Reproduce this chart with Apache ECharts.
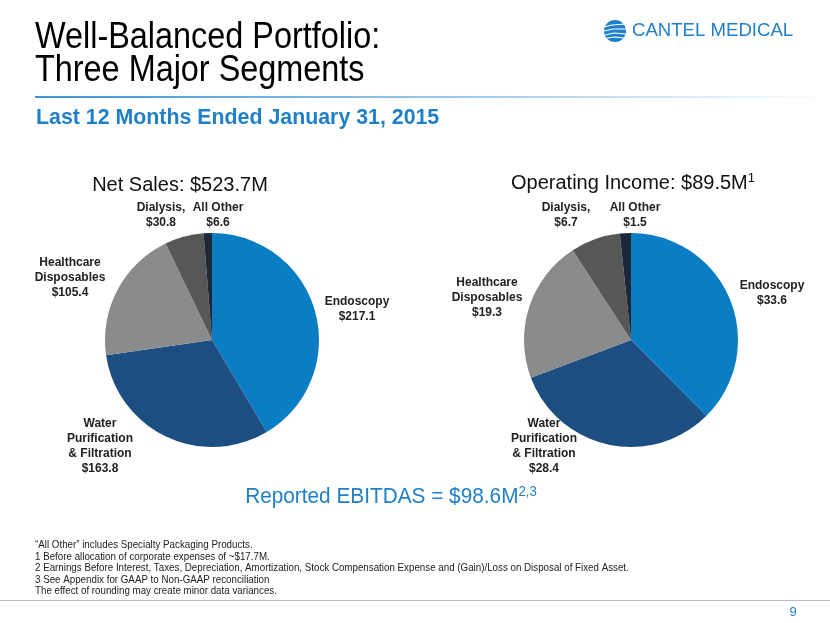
<!DOCTYPE html>
<html>
<head>
<meta charset="utf-8">
<script src="https://cdn.jsdelivr.net/npm/echarts@6/dist/echarts.min.js"></script>
<style>
html,body{margin:0;padding:0;background:#fff;}
#chart{width:830px;height:623px;}
</style>
</head>
<body>
<div id="chart"></div>
<script>
// ---- data ----
var categories = ['Endoscopy', 'Water Purification & Filtration', 'Healthcare Disposables', 'Dialysis', 'All Other'];
var labelNames = ['Endoscopy', 'Water\nPurification\n& Filtration', 'Healthcare\nDisposables', 'Dialysis,', 'All Other'];
var netSales = [217.1, 163.8, 105.4, 30.8, 6.6];
var operatingIncome = [33.6, 28.4, 19.3, 6.7, 1.5];
var netSalesTitle = 'Net Sales: $523.7M';
var opIncomeTitle = 'Operating Income: $89.5M';
var footnotes = [
  '\u201cAll Other\u201d includes Specialty Packaging Products.',
  '1 Before allocation of corporate expenses of ~$17.7M.',
  '2 Earnings Before Interest, Taxes, Depreciation, Amortization, Stock Compensation Expense and (Gain)/Loss on Disposal of Fixed Asset.',
  '3 See Appendix for GAAP to Non-GAAP reconciliation',
  'The effect of rounding may create minor data variances.'
];

// ---- styles / layout ----
var colors = ['#0b7dc5', '#1d4e82', '#8a8b8d', '#575757', '#1b2838'];
var leftLabelPos = [[357, 309], [100, 446], [70, 278], [161, 215], [218, 215]];
var rightLabelPos = [[772, 293], [544, 446], [487, 298], [566, 215], [635, 215]];

function buildData(vals) {
  return vals.map(function (v, i) {
    return { name: categories[i], value: v, itemStyle: { color: colors[i] } };
  });
}
function labelFmt(p) {
  return labelNames[p.dataIndex] + '\n$' + p.value.toFixed(1);
}
function makePie(vals, center, pos) {
  return {
    type: 'pie',
    center: center,
    radius: 107,
    startAngle: 90,
    clockwise: true,
    animation: false,
    data: buildData(vals),
    label: {
      show: true,
      position: 'outside',
      formatter: labelFmt,
      fontFamily: '"Liberation Sans", Arial, sans-serif',
      fontWeight: 'bold',
      fontSize: 12,
      lineHeight: 15,
      color: '#222',
      align: 'center',
      overflow: 'none',
      width: 120
    },
    labelLine: { show: false },
    labelLayout: function (p) {
      var xy = pos[p.dataIndex];
      return { x: xy[0], y: xy[1], align: 'center', verticalAlign: 'middle' };
    },
    emphasis: { disabled: true }
  };
}

var chart = echarts.init(document.getElementById('chart'), null, { renderer: 'canvas' });

var graphics = [
  // main title
  { type: 'text', x: 35, y: 56, scaleX: 0.9,
    style: { text: 'Well-Balanced Portfolio:', font: '36px "Liberation Sans", Arial, sans-serif', fill: '#000', textAlign: 'left', textVerticalAlign: 'bottom' } },
  { type: 'text', x: 35, y: 89, scaleX: 0.9,
    style: { text: 'Three Major Segments', font: '36px "Liberation Sans", Arial, sans-serif', fill: '#000', textAlign: 'left', textVerticalAlign: 'bottom' } },
  // rule under title
  { type: 'rect', shape: { x: 35, y: 96, width: 795, height: 2 },
    style: { fill: new echarts.graphic.LinearGradient(0, 0, 1, 0, [
      { offset: 0, color: '#3b95d6' }, { offset: 0.6, color: '#a9d0ee' }, { offset: 1, color: '#ffffff' }]) } },
  // subtitle
  { type: 'text', x: 36, y: 129, scaleX: 0.97,
    style: { text: 'Last 12 Months Ended January 31, 2015', font: 'bold 22px "Liberation Sans", Arial, sans-serif', fill: '#1f7fc9', textAlign: 'left', textVerticalAlign: 'bottom' } },
  // logo
  { type: 'circle', shape: { cx: 615, cy: 31, r: 11 }, style: { fill: '#1f7fc9' } },
  { type: 'polyline', shape: { points: [[604, 27], [612, 25], [626, 24]] }, style: { stroke: '#fff', lineWidth: 1.2, fill: null } },
  { type: 'polyline', shape: { points: [[604, 31], [613, 29], [626, 29]] }, style: { stroke: '#fff', lineWidth: 1.2, fill: null } },
  { type: 'polyline', shape: { points: [[605, 35], [614, 33], [626, 34]] }, style: { stroke: '#fff', lineWidth: 1.2, fill: null } },
  { type: 'polyline', shape: { points: [[607, 38], [615, 37], [624, 38]] }, style: { stroke: '#fff', lineWidth: 1.2, fill: null } },
  { type: 'text', x: 632, y: 40,
    style: { text: 'CANTEL MEDICAL', font: '18.6px "Liberation Sans", Arial, sans-serif', fill: '#1f7fc9', textAlign: 'left', textVerticalAlign: 'bottom' } },
  // pie titles
  { type: 'text', x: 180, y: 195,
    style: { text: netSalesTitle, font: '20px "Liberation Sans", Arial, sans-serif', fill: '#111', textAlign: 'center', textVerticalAlign: 'bottom' } },
  { type: 'text', x: 633, y: 195,
    style: { text: '{a|' + opIncomeTitle + '}{s|1}', textAlign: 'center', textVerticalAlign: 'bottom',
      rich: { a: { font: '20px "Liberation Sans", Arial, sans-serif', fill: '#111' },
              s: { font: '13px "Liberation Sans", Arial, sans-serif', fill: '#111', verticalAlign: 'top', padding: [0, 0, 10, 0] } } } },
  // EBITDAS
  { type: 'text', x: 391, y: 509, scaleX: 0.945,
    style: { text: '{a|Reported EBITDAS = $98.6M}{s|2,3}', textAlign: 'center', textVerticalAlign: 'bottom',
      rich: { a: { font: '22px "Liberation Sans", Arial, sans-serif', fill: '#1f7fc9' },
              s: { font: '14px "Liberation Sans", Arial, sans-serif', fill: '#1f7fc9', padding: [0, 0, 10, 0] } } } },
  // bottom rule and page number
  { type: 'rect', shape: { x: 0, y: 600, width: 830, height: 1 }, style: { fill: '#bfbfbf' } },
  { type: 'text', x: 793, y: 619,
    style: { text: '9', font: '13px "Liberation Sans", Arial, sans-serif', fill: '#1f7fc9', textAlign: 'center', textVerticalAlign: 'bottom' } }
];
footnotes.forEach(function (t, i) {
  graphics.push({ type: 'text', x: 35, y: 551 + i * 11.5, scaleX: 0.93,
    style: { text: t, font: '10.5px "Liberation Sans", Arial, sans-serif', fill: '#222', textAlign: 'left', textVerticalAlign: 'bottom' } });
});

chart.setOption({
  animation: false,
  backgroundColor: '#ffffff',
  series: [
    makePie(netSales, [212, 340], leftLabelPos),
    makePie(operatingIncome, [631, 340], rightLabelPos)
  ],
  graphic: graphics
});
</script>
</body>
</html>
